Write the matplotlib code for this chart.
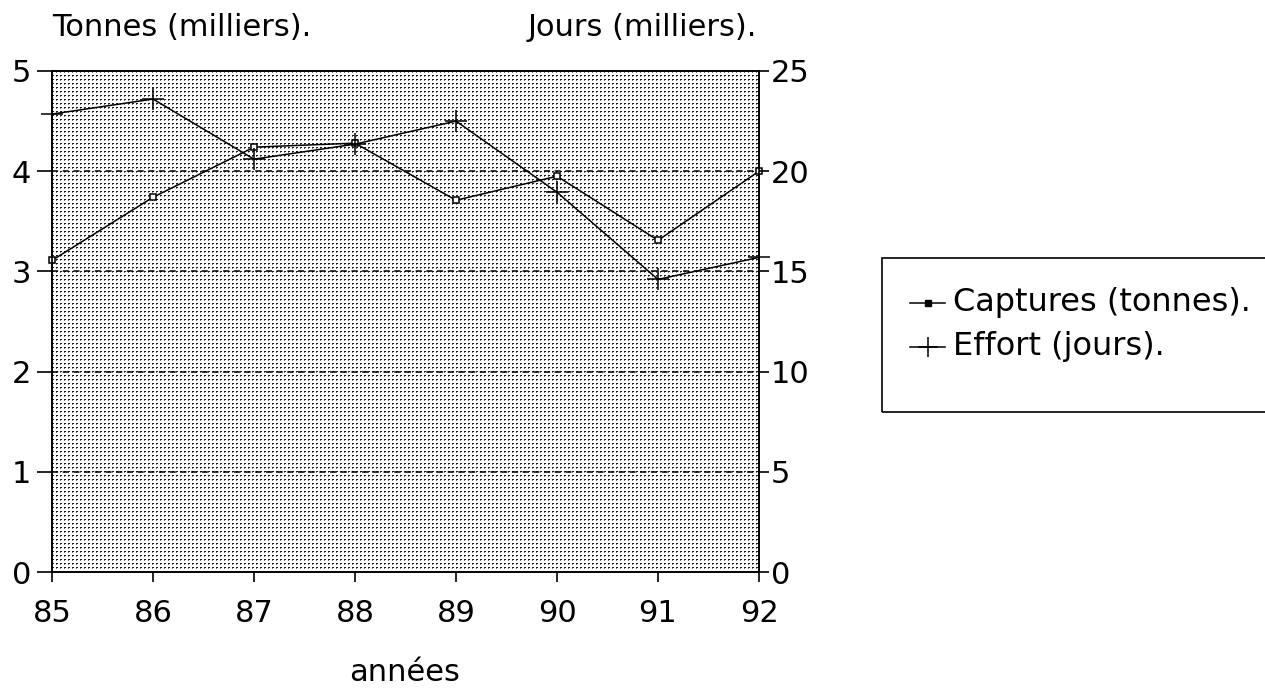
import numpy as np
import matplotlib
matplotlib.use("Agg")
import matplotlib.pyplot as plt
from matplotlib.lines import Line2D
from matplotlib.patches import Rectangle

years = [85, 86, 87, 88, 89, 90, 91, 92]
captures = [3.11, 3.74, 4.24, 4.28, 3.71, 3.95, 3.31, 4.00]
effort = [22.85, 23.6, 20.6, 21.35, 22.5, 18.95, 14.6, 15.7]
left_ticks = [0, 1, 2, 3, 4, 5]
right_ticks = [0, 5, 10, 15, 20, 25]
legend_labels = ["Captures (tonnes).", "Effort (jours)."]

plt.rcParams['font.family'] = ['DejaVu Sans']

W_PX, H_PX = 1265, 689
fig = plt.figure(figsize=(W_PX / 100, H_PX / 100), dpi=100)
ax = fig.add_axes([52 / W_PX, (H_PX - 572) / H_PX, 707 / W_PX, 501 / H_PX])

# dotted background pattern
H, W = 501, 707
pat = np.ones((H, W))
yy, xx = np.mgrid[0:H, 0:W]
pat[(yy % 4 == 0) & (xx % 4 < 2)] = 0.1
pat[(yy % 4 == 1) & (xx % 4 == 0)] = 0.45
ax.imshow(pat, cmap='gray', vmin=0, vmax=1, extent=[0, 1, 0, 1],
          transform=ax.transAxes, aspect='auto', interpolation='nearest', zorder=0)

ax.set_xlim(85, 92)
ax.set_ylim(0, 5)
for y in [1, 2, 3, 4]:
    ax.axhline(y, color='black', lw=1.1, ls=(0, (4, 3)), zorder=1)

ax.plot(years, captures, color='black', lw=1.1, marker='s', ms=4.5,
        mfc='white', mec='black', mew=1.1, zorder=3, clip_on=False)

ax2 = ax.twinx()
ax2.set_ylim(0, 25)
ax2.plot(years, effort, color='black', lw=1.1, marker='+', ms=16,
         mew=1.1, zorder=3, clip_on=False)

ax.set_xticks(years)
ax.set_xticklabels([str(y) for y in years], fontsize=22)
ax.set_yticks(left_ticks)
ax.set_yticklabels([str(t) for t in left_ticks], fontsize=22)
ax2.set_yticks(right_ticks)
ax2.set_yticklabels([str(t) for t in right_ticks], fontsize=22)

for a in (ax, ax2):
    for s in a.spines.values():
        s.set_linewidth(1.2)
ax.tick_params(axis='x', direction='out', length=7.5, width=1.2, pad=12)
ax.tick_params(axis='y', direction='out', length=11, width=1.2, pad=4)
ax2.tick_params(axis='y', direction='out', length=7.5, width=1.2, pad=1)

fig.text(52 / W_PX, 1 - 28 / H_PX, "Tonnes (milliers).", fontsize=22, ha='left', va='center')
fig.text(757 / W_PX, 1 - 28 / H_PX, "Jours (milliers).", fontsize=22, ha='right', va='center')
fig.text(405 / W_PX, 1 - 681 / H_PX, "années", fontsize=22, ha='center', va='baseline')

# legend box (extends past right edge like the reference)
fig.add_artist(Rectangle((882 / W_PX, 1 - 412 / H_PX), 400 / W_PX, 154 / H_PX,
                         transform=fig.transFigure, fill=False, ec='black', lw=1.2))
rows_y = [303, 347]
styles = [dict(marker='s', ms=4, mfc='black', mec='black'),
          dict(marker='+', ms=14, mew=1.1)]
for label, ry, st in zip(legend_labels, rows_y, styles):
    yf = 1 - ry / H_PX
    fig.add_artist(Line2D([910 / W_PX, 945 / W_PX], [yf, yf], transform=fig.transFigure,
                          color='black', lw=1.1))
    fig.add_artist(Line2D([928 / W_PX], [yf], transform=fig.transFigure,
                          color='black', ls='none', **st))
    fig.text(953 / W_PX, yf, label, fontsize=23, ha='left', va='center')

fig.savefig("out.png", dpi=100)
